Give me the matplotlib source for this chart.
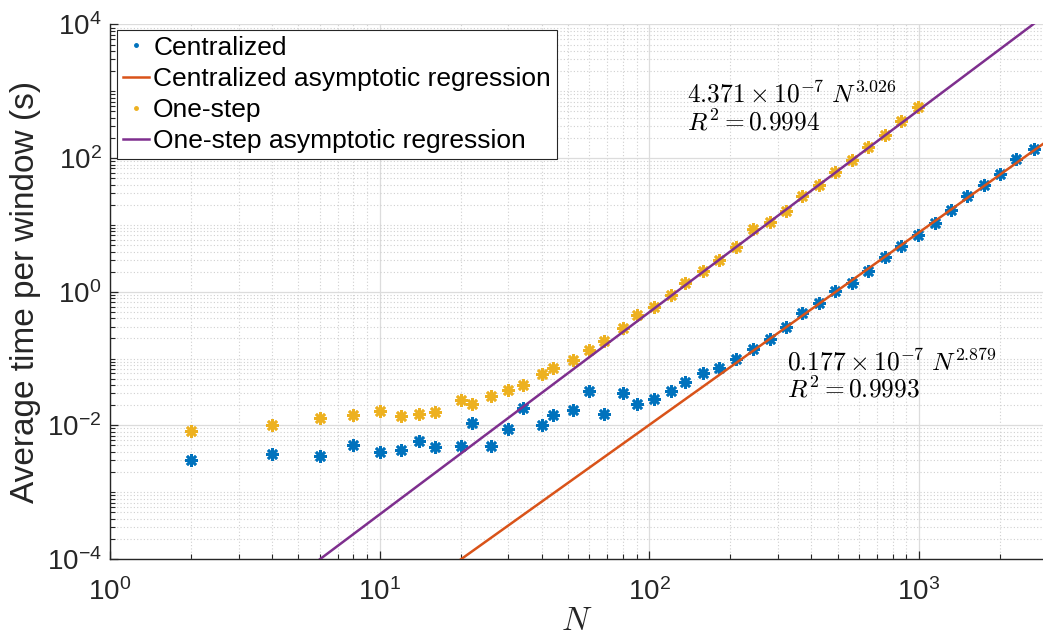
import numpy as np
import matplotlib
matplotlib.use('Agg')
import matplotlib.pyplot as plt
from matplotlib.lines import Line2D
from matplotlib.ticker import FixedLocator, LogLocator, FuncFormatter, NullFormatter

# window sizes and timings
n_central = [2, 4, 6, 8, 10, 12, 14, 16, 20, 22, 26, 30, 34, 40, 44, 52, 60, 68, 80, 90,
             104, 120, 136, 158, 182, 210, 242, 280, 322, 370, 426, 490, 566, 650, 750,
             862, 992, 1146, 1320, 1512, 1740, 2004, 2302, 2668]
t_central = [0.00299, 0.00368, 0.00347, 0.00513, 0.00398, 0.00427, 0.0059, 0.0048,
             0.0049, 0.011, 0.00497, 0.0088, 0.0182, 0.01025, 0.0141, 0.0168, 0.0327,
             0.0148, 0.031, 0.0212, 0.0248, 0.0332, 0.0447, 0.0618, 0.071, 0.1, 0.1397,
             0.197, 0.2985, 0.479, 0.684, 1.02, 1.365, 2.07, 3.28, 4.9, 7.08, 10.8, 16.8,
             27.3, 39.8, 58.2, 97.7, 138]

n_onestep = [2, 4, 6, 8, 10, 12, 14, 16, 20, 22, 26, 30, 34, 40, 44, 52, 60, 68, 80, 90,
             104, 120, 136, 158, 182, 210, 242, 280, 322, 370, 426, 490, 566, 650, 750,
             862, 992]
t_onestep = [0.0082, 0.0103, 0.0129, 0.0143, 0.0166, 0.014, 0.0146, 0.0158, 0.0243,
             0.0212, 0.0275, 0.0336, 0.0403, 0.0589, 0.071, 0.0945, 0.1335, 0.184,
             0.2855, 0.443, 0.583, 0.883, 1.336, 2.07, 2.99, 4.73, 8.72, 11.0, 16.4,
             27.3, 39.8, 61, 94.5, 146.5, 219, 355, 575]

# power-law fits a * N^b
fit_central = (0.177e-7, 2.879)
fit_onestep = (4.371e-7, 3.026)

c_blue = '#0072BD'
c_orange = '#D95319'
c_yellow = '#EDB120'
c_purple = '#7E2F8E'
c_text = '#262626'

plt.rcParams['font.family'] = ['Liberation Sans', 'DejaVu Sans']

fig = plt.figure(figsize=(10.43, 6.44), dpi=100)
ax = fig.add_axes([0.1055, 0.132, 0.8945, 0.830])

xmax = 2890
nn = np.logspace(0, np.log10(xmax), 400)
star = (8, 2, 0)

ax.plot(n_central, t_central, linestyle='none', marker=star, ms=9, mew=1.9,
        color=c_blue, zorder=3)
ax.plot(nn, fit_central[0] * nn ** fit_central[1], color=c_orange, lw=1.8, zorder=4)
ax.plot(n_onestep, t_onestep, linestyle='none', marker=star, ms=9, mew=1.9,
        color=c_yellow, zorder=3)
ax.plot(nn, fit_onestep[0] * nn ** fit_onestep[1], color=c_purple, lw=1.8, zorder=4)

ax.set_xscale('log')
ax.set_yscale('log')
ax.set_xlim(1, xmax)
ax.set_ylim(1e-4, 1e4)

ax.xaxis.set_major_locator(FixedLocator([1, 10, 100, 1000]))
ax.yaxis.set_major_locator(FixedLocator([1e-4, 1e-2, 1, 1e2, 1e4]))
ax.xaxis.set_minor_locator(LogLocator(base=10, subs=np.arange(1, 10), numticks=100))
ax.yaxis.set_minor_locator(LogLocator(base=10, subs=np.arange(1, 10), numticks=100))
fmt = FuncFormatter(lambda v, p: r'$\mathregular{10^{%d}}$' % int(round(np.log10(v))))
ax.xaxis.set_major_formatter(fmt)
ax.yaxis.set_major_formatter(fmt)
ax.xaxis.set_minor_formatter(NullFormatter())
ax.yaxis.set_minor_formatter(NullFormatter())

ax.grid(True, which='major', color='#dcdcdc', lw=0.9, ls='-')
ax.grid(True, which='minor', color='#d0d0d0', lw=0.8, ls=(0, (1, 2)))
ax.set_axisbelow(True)

for s in ['top', 'right']:
    ax.spines[s].set_visible(False)
for s in ['left', 'bottom']:
    ax.spines[s].set_color(c_text)
    ax.spines[s].set_linewidth(1.0)
ax.tick_params(which='both', direction='in', colors=c_text, labelsize=20)
ax.tick_params(which='major', length=6, width=0.9)
ax.tick_params(which='minor', length=3.5, width=0.8)
ax.tick_params(axis='x', pad=14)
ax.tick_params(axis='y', pad=6)

ax.set_xlabel('$N$', fontsize=24, math_fontfamily='cm', color=c_text, labelpad=0)
ax.set_ylabel('Average time per window (s)', fontsize=24, color=c_text, labelpad=4)

ax.text(138, 1400, r'$4.371 \times 10^{-7}\ N^{3.026}$' + '\n' + r'$R^2 = 0.9994$',
        fontsize=18.3, math_fontfamily='cm', va='top', ha='left', linespacing=1.05)
ax.text(324, 0.138, r'$0.177 \times 10^{-7}\ N^{2.879}$' + '\n' + r'$R^2 = 0.9993$',
        fontsize=18.3, math_fontfamily='cm', va='top', ha='left', linespacing=1.05)

handles = [
    Line2D([], [], ls='none', marker='.', ms=5, color=c_blue),
    Line2D([], [], color=c_orange, lw=1.8),
    Line2D([], [], ls='none', marker='.', ms=5, color=c_yellow),
    Line2D([], [], color=c_purple, lw=1.8),
]
labels = ['Centralized', 'Centralized asymptotic regression', 'One-step',
          'One-step asymptotic regression']
leg = ax.legend(handles, labels, loc='upper left', bbox_to_anchor=(0.0075, 0.99),
                fontsize=19, fancybox=False, framealpha=1, edgecolor=c_text,
                handlelength=1.0, handletextpad=0.15, borderpad=0.22, labelspacing=0.27,
                borderaxespad=0)
leg.get_frame().set_linewidth(0.8)

fig.savefig('out.png', dpi=100)
